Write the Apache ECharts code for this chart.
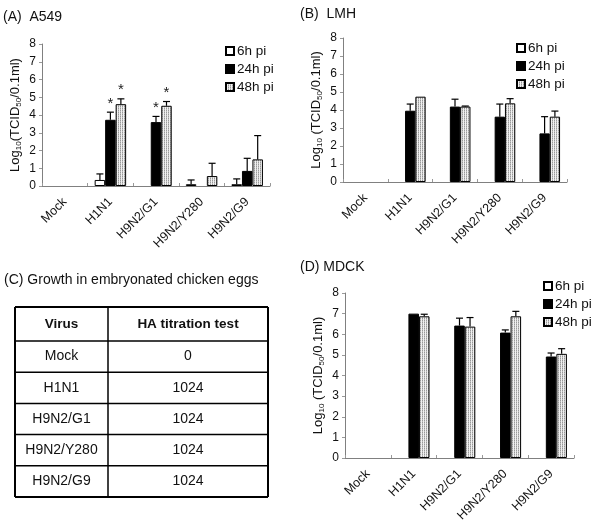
<!DOCTYPE html>
<html>
<head>
<meta charset="utf-8">
<script src="https://cdn.jsdelivr.net/npm/echarts@6/dist/echarts.min.js"></script>
<style>
html,body{margin:0;padding:0;background:#fff;}
#main{width:600px;height:531px;}
</style>
</head>
<body>
<div id="main"></div>
<script>
// ---------- DATA ----------
const categories = ['Mock', 'H1N1', 'H9N2/G1', 'H9N2/Y280', 'H9N2/G9'];
const seriesNames = ['6h pi', '24h pi', '48h pi'];
const yMin = 0, yMax = 8, yInterval = 1;

// (A) A549  mean values and upper SD
const a549_6h   = [0, 0.34, 0, 0.10, 0.10];
const a549_6h_sd  = [0, 0.34, 0, 0.24, 0.30];
const a549_24h  = [0, 3.73, 3.60, 0, 0.85];
const a549_24h_sd = [0, 0.43, 0.32, 0, 0.71];
const a549_48h  = [0, 4.61, 4.52, 0.56, 1.50];
const a549_48h_sd = [0, 0.30, 0.24, 0.72, 1.34];
const a549_star24 = [0, 1, 1, 0, 0];
const a549_star48 = [0, 1, 1, 0, 0];

// (B) LMH
const lmh_6h   = [0, 0, 0, 0, 0];
const lmh_6h_sd  = [0, 0, 0, 0, 0];
const lmh_24h  = [0, 3.96, 4.19, 3.63, 2.70];
const lmh_24h_sd = [0, 0.37, 0.41, 0.70, 0.93];
const lmh_48h  = [0, 4.74, 4.19, 4.37, 3.63];
const lmh_48h_sd = [0, 0, 0.03, 0.26, 0.31];

// (D) MDCK
const mdck_6h   = [0, 0, 0, 0, 0];
const mdck_6h_sd  = [0, 0, 0, 0, 0];
const mdck_24h  = [0, 7.00, 6.42, 6.08, 4.92];
const mdck_24h_sd = [0, 0, 0.36, 0.13, 0.17];
const mdck_48h  = [0, 6.87, 6.37, 6.87, 5.05];
const mdck_48h_sd = [0, 0.10, 0.44, 0.24, 0.25];

// (C) table
const tableTitle = '(C) Growth in embryonated chicken eggs';
const tableHeader = ['Virus', 'HA titration test'];
const tableVirus = ['Mock', 'H1N1', 'H9N2/G1', 'H9N2/Y280', 'H9N2/G9'];
const tableHA = ['0', '1024', '1024', '1024', '1024'];

const panelTitles = ['(A)  A549', '(B)  LMH', '(D) MDCK'];
const yNames = ['Log{s|10}(TCID{s|50}/0.1ml)', 'Log{s|10} (TCID{s|50}/0.1ml)', 'Log{s|10} (TCID{s|50}/0.1ml)'];

// ---------- STYLE / LAYOUT ----------
const grids = [
  {left: 42, top: 44, width: 228, height: 142},
  {left: 343, top: 38, width: 224, height: 144},
  {left: 345, top: 293, width: 229, height: 165}
];
const legendPos = [
  {left: 225, top: 44},
  {left: 516, top: 41},
  {left: 543, top: 279}
];
const titlePos = [
  {left: 3, top: 10},
  {left: 300, top: 7},
  {left: 300, top: 260}
];
const BAR_FRAC = 0.23;

function makePattern() {
  const c = document.createElement('canvas');
  c.width = 2; c.height = 2;
  const g = c.getContext('2d');
  g.fillStyle = '#f0f0f0'; g.fillRect(0, 0, 2, 2);
  g.fillStyle = '#999999'; g.fillRect(0, 0, 1, 1);
  g.fillStyle = '#c0c0c0'; g.fillRect(0, 1, 1, 1);
  return c;
}
const fills = ['#ffffff', '#000000', {image: makePattern(), repeat: 'repeat'}];

const panels = [
  {vals: [a549_6h, a549_24h, a549_48h], sds: [a549_6h_sd, a549_24h_sd, a549_48h_sd], stars: [null, a549_star24, a549_star48]},
  {vals: [lmh_6h, lmh_24h, lmh_48h], sds: [lmh_6h_sd, lmh_24h_sd, lmh_48h_sd], stars: [null, null, null]},
  {vals: [mdck_6h, mdck_24h, mdck_48h], sds: [mdck_6h_sd, mdck_24h_sd, mdck_48h_sd], stars: [null, null, null]}
];

const textColor = '#111';
const axisColor = '#808080';
const FONT = 'Liberation Sans, Arial, sans-serif';

const xAxes = [], yAxes = [], series = [], legends = [], titles = [];

panels.forEach((p, pi) => {
  xAxes.push({
    type: 'category', gridIndex: pi, data: categories,
    axisLine: {lineStyle: {color: axisColor, width: 1}},
    axisTick: {show: true, inside: true, length: 3, interval: 0, alignWithLabel: false, lineStyle: {color: '#999'}},
    axisLabel: {rotate: 45, interval: 0, fontSize: 12.5, color: textColor, margin: 14, fontFamily: FONT}
  });
  yAxes.push({
    type: 'value', gridIndex: pi, min: yMin, max: yMax, interval: yInterval,
    axisLine: {show: true, lineStyle: {color: axisColor, width: 1}},
    axisTick: {show: true, length: 3, lineStyle: {color: '#999'}},
    splitLine: {show: false},
    axisLabel: {fontSize: 12, color: textColor, margin: 6, fontFamily: FONT},
    name: yNames[pi], nameLocation: 'middle', nameGap: 19,
    nameTextStyle: {fontSize: 13, color: textColor, fontFamily: FONT,
      rich: {s: {fontSize: 8, color: textColor, fontFamily: FONT, padding: [7, 0, 0, 0]}}}
  });
  legends.push(Object.assign({
    data: seriesNames, orient: 'vertical', itemWidth: 8, itemHeight: 8, itemGap: 4,
    padding: 0, icon: 'rect', selectedMode: false,
    textStyle: {fontSize: 13.5, color: textColor, fontFamily: FONT, padding: [0, 0, 0, -2]}
  }, legendPos[pi]));
  titles.push(Object.assign({
    text: panelTitles[pi], padding: 0,
    textStyle: {fontSize: 14, fontWeight: 'normal', color: textColor, fontFamily: FONT}
  }, titlePos[pi]));

  for (let k = 0; k < 3; k++) {
    const barData = p.vals[k].map(v => v > 0 ? v : {value: v, itemStyle: {borderWidth: 0, opacity: 0}});
    series.push({
      type: 'bar', name: seriesNames[k], xAxisIndex: pi, yAxisIndex: pi,
      data: barData, barWidth: (BAR_FRAC * 100) + '%', barGap: '0%',
      itemStyle: {color: fills[k], borderColor: '#000', borderWidth: 1},
      emphasis: {disabled: true}, silent: true, z: 2
    });
  }
  for (let k = 0; k < 3; k++) {
    const errData = categories.map((c, i) => [i, p.vals[k][i], p.sds[k][i], p.stars[k] ? p.stars[k][i] : 0]);
    series.push({
      type: 'custom', xAxisIndex: pi, yAxisIndex: pi, silent: true, z: 3,
      data: errData,
      renderItem: (params, api) => {
        const idx = api.value(0), v = api.value(1), sd = api.value(2), star = api.value(3);
        const catW = api.size([1, 0])[0];
        const bw = catW * BAR_FRAC;
        const cx = api.coord([idx, 0])[0] + (k - 1) * bw;
        const yBase = api.coord([idx, v])[1];
        const yTop = api.coord([idx, v + sd])[1];
        const children = [];
        if (sd > 0) {
          children.push({type: 'line', shape: {x1: cx, y1: yBase, x2: cx, y2: yTop}, style: {stroke: '#000', lineWidth: 1.2}});
          children.push({type: 'line', shape: {x1: cx - 3.5, y1: yTop, x2: cx + 3.5, y2: yTop}, style: {stroke: '#000', lineWidth: 1.2}});
        }
        if (star) {
          children.push({type: 'text', style: {text: '*', x: cx, y: yTop - 1, align: 'center', verticalAlign: 'bottom', fill: '#222', font: '15px ' + FONT}});
        }
        return {type: 'group', children: children};
      }
    });
  }
});

// ---------- TABLE (C) ----------
const tbl = {x0: 15, x1: 108, x2: 268, y0: 307, headH: 34, rowH: 31.2};
const graphics = [];
graphics.push({type: 'text', left: 4, top: 273, style: {text: tableTitle, fill: textColor, font: '14px ' + FONT}});
const nRows = tableVirus.length;
const yBottom = tbl.y0 + tbl.headH + nRows * tbl.rowH;
const rowTops = [tbl.y0];
for (let r = 0; r <= nRows; r++) rowTops.push(tbl.y0 + tbl.headH + r * tbl.rowH);
rowTops.forEach((y, i) => {
  const outer = (i === 0 || i === rowTops.length - 1);
  graphics.push({type: 'line', shape: {x1: tbl.x0, y1: y, x2: tbl.x2, y2: y}, style: {stroke: '#000', lineWidth: outer ? 2 : 1.5}});
});
[tbl.x0, tbl.x1, tbl.x2].forEach((x, i) => {
  graphics.push({type: 'line', shape: {x1: x, y1: tbl.y0, x2: x, y2: yBottom}, style: {stroke: '#000', lineWidth: i === 1 ? 1.5 : 2}});
});
const colC = [(tbl.x0 + tbl.x1) / 2, (tbl.x1 + tbl.x2) / 2];
tableHeader.forEach((h, c) => {
  graphics.push({type: 'text', x: colC[c], y: tbl.y0 + tbl.headH / 2,
    style: {text: h, align: 'center', verticalAlign: 'middle', fill: textColor, font: 'bold 13.5px ' + FONT}});
});
for (let r = 0; r < nRows; r++) {
  const cy = rowTops[r + 1] + tbl.rowH / 2;
  [tableVirus[r], tableHA[r]].forEach((t, c) => {
    graphics.push({type: 'text', x: colC[c], y: cy,
      style: {text: t, align: 'center', verticalAlign: 'middle', fill: textColor, font: '14px ' + FONT}});
  });
}

const chart = echarts.init(document.getElementById('main'), null, {renderer: 'canvas'});
chart.setOption({
  backgroundColor: '#fff',
  animation: false,
  textStyle: {fontFamily: FONT},
  title: titles,
  legend: legends,
  grid: grids,
  xAxis: xAxes,
  yAxis: yAxes,
  series: series,
  graphic: graphics
});
</script>
</body>
</html>
